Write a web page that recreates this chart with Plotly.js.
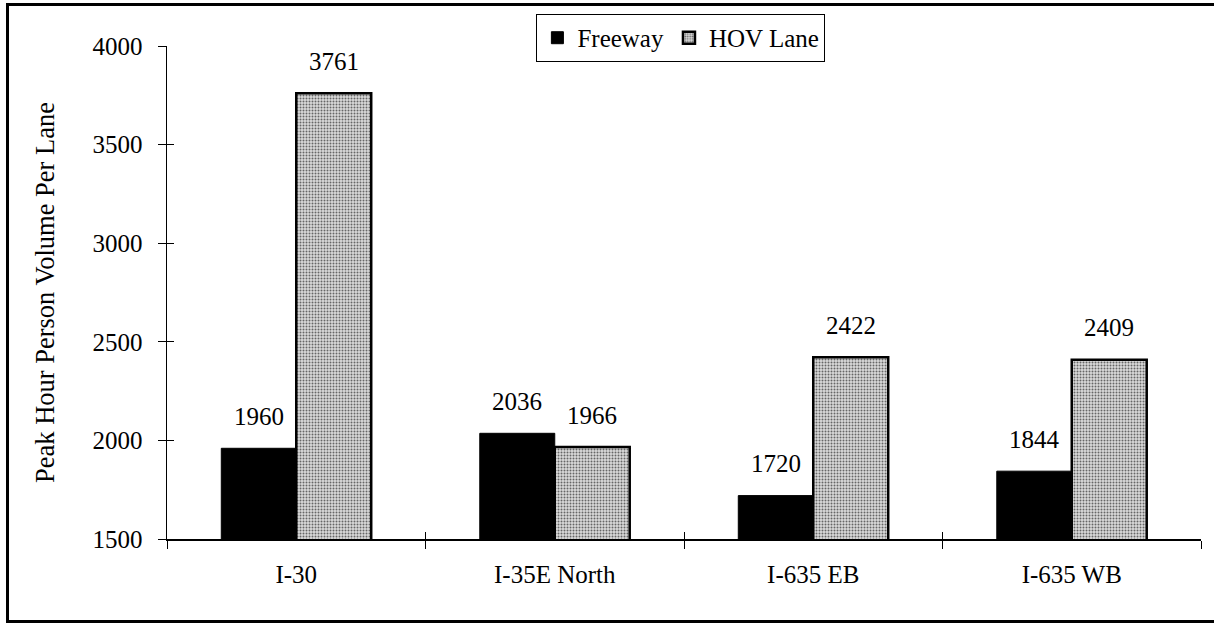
<!DOCTYPE html>
<html>
<head>
<meta charset="utf-8">
<script src="https://cdn.plot.ly/plotly-3.0.1.min.js"></script>
<style>
  html, body { margin: 0; padding: 0; background: #fff; overflow: hidden; }
  #frame {
    position: absolute; left: 6px; top: 3px; width: 1212px; height: 620px;
    box-sizing: border-box; border: 3px solid #000;
  }
  #chart { position: absolute; left: 0; top: 0; width: 1214px; height: 624px; }
</style>
</head>
<body>
<div id="frame"></div>
<div id="chart"></div>
<script>
const CORRIDORS = ["I-30", "I-35E North", "I-635 EB", "I-635 WB"];
const FREEWAY = [1960, 2036, 1720, 1844];
const HOV_LANE = [3761, 1966, 2422, 2409];
const Y_TICKS = [1500, 2000, 2500, 3000, 3500, 4000];

const FONT = { family: "Liberation Serif, Times New Roman, serif", size: 25, color: "#000" };
const BAR_HALF = 37.5;   // half of one bar in px, used to put labels over each bar
const LABEL_LIFT = 32;   // px between bar top and label centre

const traces = [
    {
        type: "bar", name: "Freeway", x: CORRIDORS, y: FREEWAY,
        marker: { color: "#000", line: { color: "#000", width: 1 } },
        hoverinfo: "skip",
    },
    {
        type: "bar", name: "HOV Lane", x: CORRIDORS, y: HOV_LANE,
        marker: {
            color: "#dadada",
            line: { color: "#000", width: 2.5 },
            pattern: { shape: ".", fgcolor: "#666", bgcolor: "#dadada", size: 3, solidity: 0.35 },
        },
        hoverinfo: "skip",
    },
    // invisible trace that carries the inner half of the crossing ticks
    {
        type: "scatter", mode: "markers", x: CORRIDORS, y: CORRIDORS.map(() => null),
        xaxis: "x2", yaxis: "y2", showlegend: false, hoverinfo: "skip",
    },
];

const annotations = [];
CORRIDORS.forEach((c, i) => {
    annotations.push({ x: c, y: FREEWAY[i], text: String(FREEWAY[i]), showarrow: false,
        xshift: -BAR_HALF, yshift: LABEL_LIFT, yanchor: "middle", font: FONT });
    annotations.push({ x: c, y: HOV_LANE[i], text: String(HOV_LANE[i]), showarrow: false,
        xshift: BAR_HALF, yshift: LABEL_LIFT, yanchor: "middle", font: FONT });
});

const xRange = [-0.5, CORRIDORS.length - 0.5];
const yRange = [Y_TICKS[0], Y_TICKS[Y_TICKS.length - 1]];

const layout = {
    width: 1214, height: 624,
    margin: { l: 167, r: 13, t: 46, b: 85 },
    paper_bgcolor: "rgba(0,0,0,0)",
    plot_bgcolor: "rgba(0,0,0,0)",
    font: FONT,
    barmode: "group",
    bargap: 0.42,
    bargroupgap: 0,
    showlegend: true,
    legend: {
        orientation: "h", x: 0.497, xanchor: "center", y: 1.065, yanchor: "top",
        bordercolor: "#000", borderwidth: 1, bgcolor: "#fff",
        font: FONT, itemwidth: 30, tracegroupgap: 0,
    },
    xaxis: {
        type: "category", range: xRange, tickson: "boundaries",
        ticks: "outside", ticklen: 8, tickwidth: 1, tickcolor: "#000",
        showline: true, linecolor: "#000", linewidth: 1.5,
        showgrid: false, zeroline: false, fixedrange: true,
        ticklabelstandoff: 12,
    },
    yaxis: {
        range: yRange, tickvals: Y_TICKS,
        ticks: "outside", ticklen: 8, tickwidth: 1, tickcolor: "#000",
        showline: true, linecolor: "#000", linewidth: 1.5,
        showgrid: false, zeroline: false, fixedrange: true,
        ticklabelstandoff: 10,
        title: { text: "Peak Hour Person Volume Per Lane", font: { ...FONT, size: 26.5 }, standoff: 30 },
    },
    xaxis2: {
        type: "category", range: xRange, overlaying: "x", tickson: "boundaries",
        categoryarray: CORRIDORS, categoryorder: "array",
        ticks: "inside", ticklen: 7, tickwidth: 1, tickcolor: "#000",
        showticklabels: false, showline: false, showgrid: false, zeroline: false, fixedrange: true,
    },
    yaxis2: {
        range: yRange, overlaying: "y", tickvals: Y_TICKS,
        ticks: "inside", ticklen: 7, tickwidth: 1, tickcolor: "#000",
        showticklabels: false, showline: false, showgrid: false, zeroline: false, fixedrange: true,
    },
    annotations,
};

Plotly.newPlot("chart", traces, layout, { displayModeBar: false, staticPlot: true });
</script>
</body>
</html>
